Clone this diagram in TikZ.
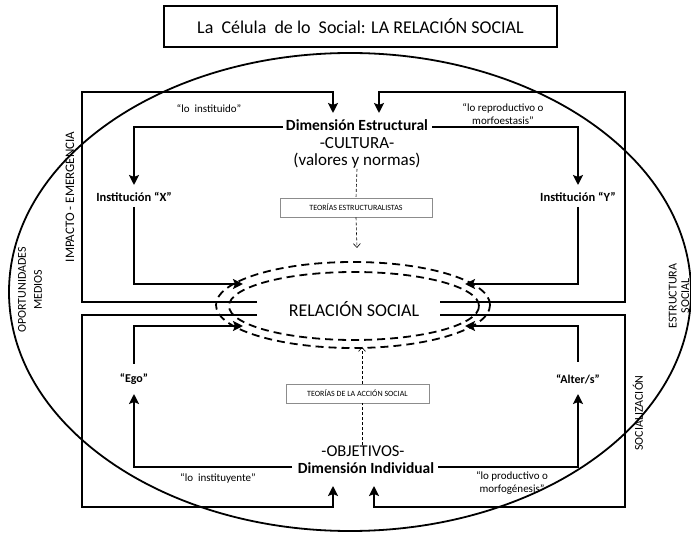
\documentclass[tikz,border=0pt]{standalone}
\usepackage{fontspec}
\setmainfont{Carlito}
\usetikzlibrary{arrows.meta}
\begin{document}
\begin{tikzpicture}[x=1pt,y=-1pt,
  mainline/.style={line width=2.2pt},
  arr/.style={mainline,-{Stealth[length=10pt,width=10pt,inset=2pt]}},
  thinarr/.style={line width=0.6pt, densely dashed, -{Straight Barb[length=4pt,width=7pt]}},
  thinline/.style={line width=0.6pt, densely dashed},
  dashell/.style={line width=1.8pt, dash pattern=on 8pt off 5pt},
  lbl/.style={inner sep=0pt, font=\fontsize{11}{12.5}\selectfont, align=center},
  blbl/.style={inner sep=0pt, font=\fontsize{12}{14}\selectfont\bfseries},
  sidelbl/.style={inner sep=0pt, rotate=90, align=center, font=\fontsize{12}{15}\selectfont},
  teobox/.style={draw=black!45, line width=0.8pt, fill=white, inner sep=0pt, font=\fontsize{8}{9}\selectfont},
  bigtxt/.style={inner sep=0pt, align=center, font=\fontsize{17}{19}\selectfont}]
\useasboundingbox (0,0) rectangle (691,534);
\fill[white] (0,0) rectangle (691,534);

% title
\node[draw, line width=1.5pt, minimum width=393pt, minimum height=41pt, inner sep=0pt,
  font=\fontsize{18}{20}\selectfont] (title) at (360.5,26.5)
  {La\ \ Célula\ \ de lo\ \ Social: LA RELACIÓN SOCIAL};

% big ellipse
\draw[line width=1.8pt] (350,292) ellipse [x radius=341pt, y radius=239pt];

% dashed ellipses
\draw[dashell] (353,305) ellipse [x radius=137pt, y radius=43pt];
\draw[dashell] (354,306) ellipse [x radius=125pt, y radius=34pt];

% texts
\node[bigtxt, font=\fontsize{15.5}{17}\selectfont\bfseries] (dimE) at (357,125) {Dimensión Estructural};
\node[bigtxt] (cult) at (357,143) {-CULTURA-};
\node[bigtxt] (valn) at (357,161) {(valores y normas)};
\node[teobox, minimum width=152pt, minimum height=19pt] (teoE) at (356,207.5) {TEORÍAS ESTRUCTURALISTAS};
\node[bigtxt, font=\fontsize{18}{20}\selectfont] (rel) at (354,309) {RELACIÓN SOCIAL};
\node[teobox, minimum width=143pt, minimum height=19pt] (teoA) at (357.5,393.5) {TEORÍAS DE LA ACCIÓN SOCIAL};
\node[bigtxt, font=\fontsize{16.5}{18}\selectfont] (obj) at (363,451) {-OBJETIVOS-};
\node[bigtxt, font=\fontsize{15.5}{17}\selectfont\bfseries] (dimI) at (366,468) {Dimensión Individual};

\node[blbl, font=\fontsize{12.5}{14}\selectfont\bfseries] (instX) at (134,197) {Institución “X”};
\node[blbl, font=\fontsize{12.5}{14}\selectfont\bfseries] (instY) at (578,197) {Institución “Y”};
\node[blbl] (ego) at (134,379) {“Ego”};
\node[blbl] (alter) at (578,379) {“Alter/s”};

\node[lbl] (linst) at (209,109) {“lo\ \ instituido”};
\node[lbl] (lrep) at (503,114) {“lo reproductivo o\\morfoestasis”};
\node[lbl] (linstuy) at (218,478) {“lo\ \ instituyente”};
\node[lbl] (lprod) at (512,483) {“lo productivo o\\morfogénesis”};

\node[sidelbl, font=\fontsize{13}{15}\selectfont] (impact) at (70,197) {IMPACTO - EMERGENCIA};
\node[sidelbl, font=\fontsize{12}{16}\selectfont] (oport) at (30,290) {OPORTUNIDADES\\MEDIOS};
\node[sidelbl, font=\fontsize{12}{12.5}\selectfont] (estr) at (679,296) {ESTRUCTURA\\SOCIAL};
\node[sidelbl] (socz) at (638,413) {SOCIALIZACIÓN};

% coordinates
\coordinate (oTL) at (82,92);
\coordinate (oTR) at (625,92);
\coordinate (oBL) at (82,507);
\coordinate (oBR) at (625,507);
\coordinate (eL1) at (257,302);
\coordinate (eL2) at (257,315);
\coordinate (eR1) at (440,302);
\coordinate (eR2) at (440,315);
\coordinate (tA) at (333,113);
\coordinate (tB) at (379,113);
\coordinate (tC) at (333,486);
\coordinate (tD) at (374,486);
\coordinate (dEl) at (283,127);
\coordinate (dEr) at (432,127);
\coordinate (dIl) at (292,467);
\coordinate (dIr) at (438,467);
\coordinate (tX) at (134,185);
\coordinate (tY) at (578,185);
\coordinate (tEgo) at (134,394);
\coordinate (tAlt) at (578,394);
\coordinate (sX) at (134,207);
\coordinate (sY) at (578,207);
\coordinate (sEgo) at (134,364);
\coordinate (sAlt) at (578,362);
\coordinate (r1) at (243,284);
\coordinate (r2) at (465,284);
\coordinate (r3) at (243,326);
\coordinate (r4) at (465,326);

% outer loops
\draw[arr] (eL1) -| (oTL) -| (tA);
\draw[arr] (eR1) -| (oTR) -| (tB);
\draw[arr] (eL2) -| (oBL) -| (tC);
\draw[arr] (eR2) -| (oBR) -| (tD);

% inner loops
\draw[arr] (dEl) -| (tX);
\draw[arr] (dEr) -| (tY);
\draw[arr] (sX) |- (r1);
\draw[arr] (sY) |- (r2);
\draw[arr] (dIl) -| (tEgo);
\draw[arr] (dIr) -| (tAlt);
\draw[arr] (sEgo) |- (r3);
\draw[arr] (sAlt) |- (r4);

% thin dashed arrows
\coordinate (tE) at (357,248);
\coordinate (tI) at (362,347);
\draw[thinline] (valn.south) -- (teoE.north);
\draw[thinarr] (teoE.south) -- (tE);
\draw[thinline] ([xshift=4.5pt]obj.north -| teoA.south) -- ([xshift=4.5pt]teoA.south);
\draw[thinarr] ([xshift=4.5pt]teoA.north) -- (tI);
\end{tikzpicture}
\end{document}
